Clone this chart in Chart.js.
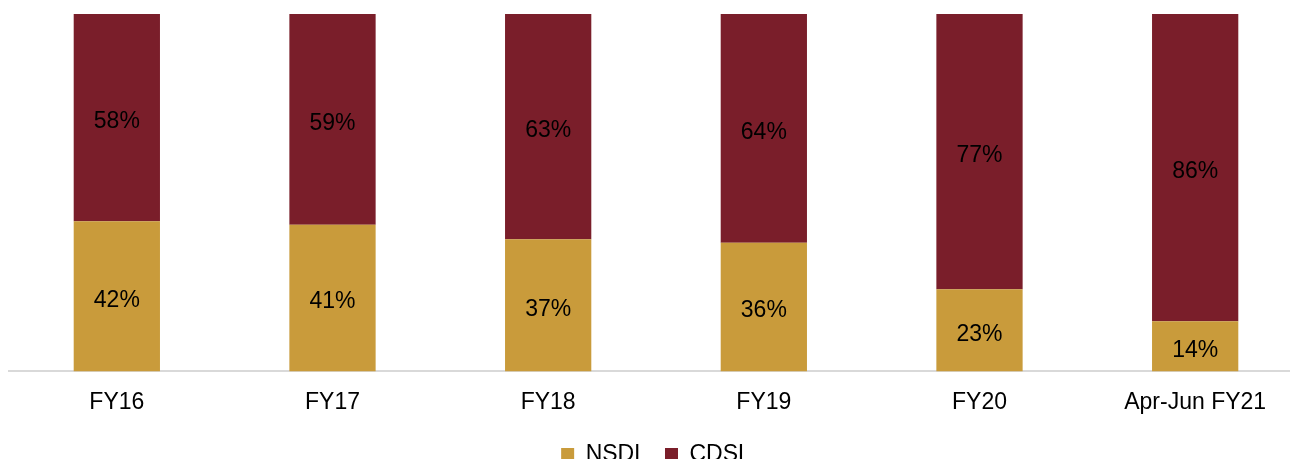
<!DOCTYPE html>
<html>
<head>
<meta charset="utf-8">
<script src="https://cdn.jsdelivr.net/npm/chart.js@4.4.0/dist/chart.umd.min.js"></script>
<style>
  html, body { margin: 0; padding: 0; background: #fff; overflow: hidden; }
  #wrap { width: 1303px; height: 459px; }
</style>
</head>
<body>
<div id="wrap"><canvas id="shareChart"></canvas></div>
<script>
const categories = ["FY16", "FY17", "FY18", "FY19", "FY20", "Apr-Jun FY21"];
const nsdl = [42, 41, 37, 36, 23, 14];
const cdsl = [58, 59, 63, 64, 77, 86];

const fontFamily = "'Liberation Sans', Arial, sans-serif";

// draws "xx%" centred in every bar segment
const segmentLabels = {
  id: "segmentLabels",
  afterDatasetsDraw(chart) {
    const ctx = chart.ctx;
    ctx.save();
    ctx.font = "23px " + fontFamily;
    ctx.fillStyle = "#000";
    ctx.textAlign = "center";
    ctx.textBaseline = "middle";
    chart.data.datasets.forEach((ds, i) => {
      chart.getDatasetMeta(i).data.forEach((bar, j) => {
        const mid = (bar.y + bar.base) / 2;
        ctx.fillText(ds.data[j] + "%", bar.x, mid + 4);
      });
    });
    ctx.restore();
  }
};

const ctx = document.getElementById("shareChart").getContext("2d");
new Chart(ctx, {
  type: "bar",
  data: {
    labels: categories,
    datasets: [
      {
        label: "NSDL",
        data: nsdl,
        backgroundColor: "#C99B3B",
        barPercentage: 0.4,
        categoryPercentage: 1
      },
      {
        label: "CDSL",
        data: cdsl,
        backgroundColor: "#7A1E2A",
        barPercentage: 0.4,
        categoryPercentage: 1
      }
    ]
  },
  options: {
    responsive: true,
    maintainAspectRatio: false,
    animation: false,
    layout: {
      padding: { top: 14, left: 9, right: 0, bottom: -17 }
    },
    plugins: {
      legend: {
        position: "bottom",
        labels: {
          boxWidth: 13,
          boxHeight: 13,
          padding: 18,
          color: "#000",
          font: { size: 23, family: fontFamily }
        }
      },
      tooltip: { enabled: false }
    },
    scales: {
      x: {
        stacked: true,
        grid: { display: false },
        border: { color: "#d9d9d9", width: 2 },
        ticks: {
          color: "#000",
          padding: 9,
          font: { size: 23, family: fontFamily }
        }
      },
      y: {
        stacked: true,
        display: false,
        min: 0,
        max: 100
      }
    }
  },
  plugins: [segmentLabels]
});
</script>
</body>
</html>
